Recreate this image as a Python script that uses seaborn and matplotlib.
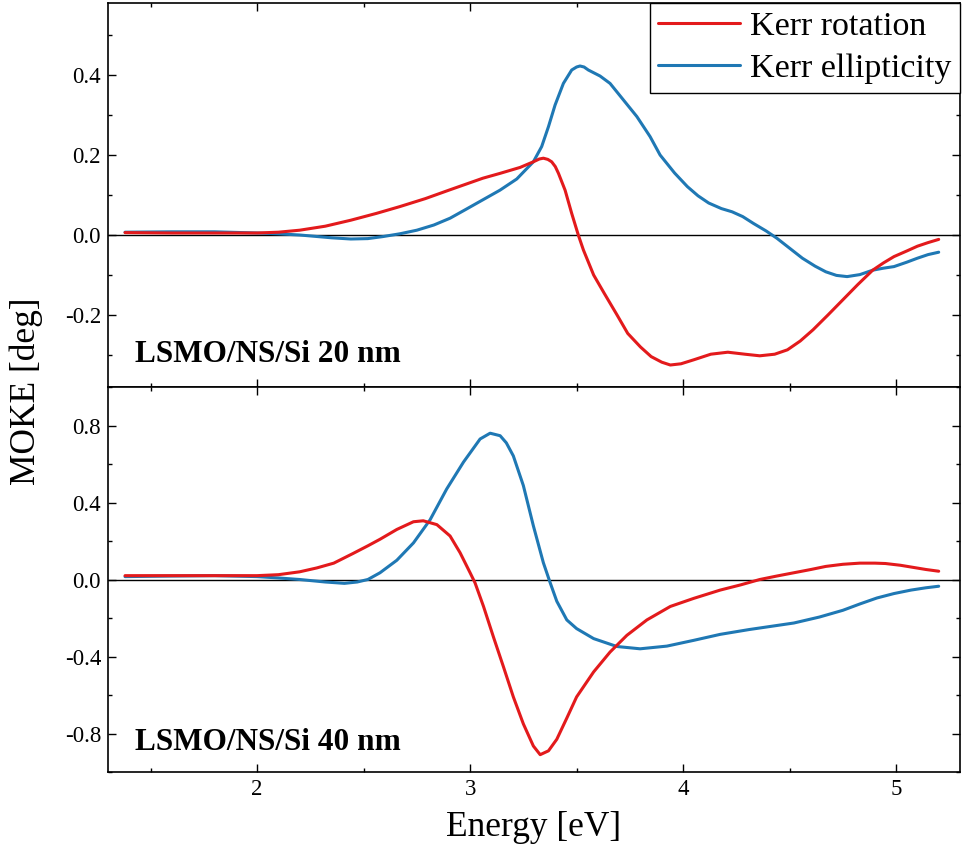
import matplotlib
matplotlib.use("Agg")
import matplotlib.pyplot as plt
import seaborn as sns
import pandas as pd
from matplotlib.ticker import MultipleLocator, FormatStrFormatter

# ---------------- data ----------------
e_rot_20 = [1.38, 1.6, 1.8, 2.0, 2.1, 2.2, 2.32, 2.44, 2.56, 2.67, 2.79, 2.9,
            2.98, 3.06, 3.14, 3.235, 3.297, 3.325, 3.344, 3.365, 3.383, 3.40,
            3.415, 3.446, 3.477, 3.508, 3.532, 3.58, 3.63, 3.69, 3.74, 3.80,
            3.85, 3.90, 3.94, 3.99, 4.05, 4.13, 4.21, 4.29, 4.36, 4.43, 4.49,
            4.55, 4.61, 4.68, 4.75, 4.82, 4.89, 4.94, 4.99, 5.05, 5.10, 5.15, 5.20]
rot_20 = [0.006, 0.005, 0.005, 0.005, 0.007, 0.012, 0.022, 0.037, 0.054, 0.071,
          0.091, 0.112, 0.127, 0.142, 0.154, 0.169, 0.183, 0.19, 0.192, 0.189,
          0.183, 0.171, 0.154, 0.112, 0.054, 0.0, -0.0375, -0.10, -0.146, -0.20,
          -0.246, -0.28, -0.304, -0.318, -0.325, -0.322, -0.312, -0.298, -0.293,
          -0.298, -0.302, -0.298, -0.287, -0.265, -0.237, -0.20, -0.162, -0.124,
          -0.088, -0.07, -0.054, -0.04, -0.028, -0.019, -0.011]

e_ell_20 = [1.38, 1.6, 1.8, 2.0, 2.1, 2.2, 2.35, 2.44, 2.52, 2.59, 2.67, 2.75,
            2.83, 2.906, 2.98, 3.06, 3.14, 3.219, 3.297, 3.336, 3.368, 3.399,
            3.438, 3.477, 3.50, 3.516, 3.535, 3.555, 3.61, 3.657, 3.72, 3.783,
            3.845, 3.892, 3.96, 4.02, 4.07, 4.12, 4.18, 4.23, 4.28, 4.33, 4.39,
            4.44, 4.50, 4.56, 4.62, 4.67, 4.72, 4.77, 4.83, 4.89, 4.94, 4.99,
            5.05, 5.10, 5.15, 5.20]
ell_20 = [0.007, 0.008, 0.008, 0.005, 0.003, 0.0, -0.007, -0.01, -0.009, -0.004,
          0.003, 0.012, 0.025, 0.042, 0.064, 0.088, 0.112, 0.14, 0.183, 0.221,
          0.271, 0.325, 0.379, 0.4125, 0.42, 0.4225, 0.42, 0.4125, 0.3975,
          0.379, 0.3375, 0.296, 0.246, 0.20, 0.155, 0.121, 0.098, 0.08, 0.066,
          0.058, 0.046, 0.029, 0.01, -0.008, -0.033, -0.058, -0.078, -0.092,
          -0.101, -0.104, -0.099, -0.088, -0.083, -0.079, -0.068, -0.058,
          -0.049, -0.043]

e_rot_40 = [1.38, 1.6, 1.8, 2.0, 2.1, 2.2, 2.28, 2.36, 2.45, 2.52, 2.577, 2.656,
            2.734, 2.78, 2.844, 2.906, 2.953, 3.0, 3.023, 3.063, 3.11, 3.157,
            3.203, 3.25, 3.297, 3.329, 3.368, 3.407, 3.454, 3.50, 3.58, 3.657,
            3.736, 3.83, 3.94, 4.05, 4.174, 4.27, 4.36, 4.44, 4.52, 4.60, 4.67,
            4.75, 4.83, 4.90, 4.95, 5.02, 5.08, 5.14, 5.20]
rot_40 = [0.02, 0.02, 0.02, 0.02, 0.025, 0.04, 0.06, 0.085, 0.135, 0.175, 0.209,
          0.26, 0.30, 0.305, 0.285, 0.226, 0.139, 0.035, -0.017, -0.14, -0.30,
          -0.455, -0.61, -0.75, -0.865, -0.91, -0.89, -0.83, -0.72, -0.61,
          -0.48, -0.377, -0.29, -0.21, -0.14, -0.098, -0.055, -0.028, 0.0,
          0.018, 0.035, 0.052, 0.068, 0.079, 0.085, 0.085, 0.083, 0.074, 0.063,
          0.052, 0.043]

e_ell_40 = [1.38, 1.6, 1.8, 2.0, 2.1, 2.2, 2.32, 2.41, 2.47, 2.52, 2.577, 2.656,
            2.734, 2.812, 2.89, 2.969, 3.047, 3.094, 3.141, 3.17, 3.203, 3.25,
            3.297, 3.344, 3.376, 3.407, 3.454, 3.50, 3.58, 3.689, 3.798, 3.924,
            4.05, 4.174, 4.31, 4.52, 4.64, 4.75, 4.83, 4.91, 4.99, 5.07, 5.14, 5.20]
ell_40 = [0.015, 0.018, 0.02, 0.015, 0.008, 0.0, -0.013, -0.02, -0.013, 0.0,
          0.035, 0.10, 0.19, 0.31, 0.47, 0.61, 0.73, 0.76, 0.747, 0.71, 0.642,
          0.488, 0.279, 0.087, -0.017, -0.113, -0.21, -0.255, -0.307, -0.348,
          -0.36, -0.346, -0.316, -0.285, -0.26, -0.226, -0.195, -0.16, -0.127,
          -0.096, -0.073, -0.055, -0.043, -0.035]

labels = ["Kerr rotation", "Kerr ellipticity"]
panel_titles = ["LSMO/NS/Si 20 nm", "LSMO/NS/Si 40 nm"]
x_label = "Energy [eV]"
y_label = "MOKE [deg]"

# ---------------- style ----------------
sns.set_theme(style="ticks")
plt.rcParams["font.family"] = ["Liberation Serif", "DejaVu Serif"]
plt.rcParams["axes.unicode_minus"] = False
for k in ["text.color", "axes.labelcolor", "xtick.color", "ytick.color",
          "axes.edgecolor"]:
    plt.rcParams[k] = "black"

RED = "#E31A1C"
BLUE = "#1F78B4"

fig = plt.figure(figsize=(9.63, 8.47), dpi=100)
left, right = 108 / 963, 960 / 963
y_top, y_mid, y_bot = 1 - 3 / 847, 1 - 387 / 847, 1 - 772 / 847
ax1 = fig.add_axes([left, y_mid, right - left, y_top - y_mid])
ax2 = fig.add_axes([left, y_bot, right - left, y_mid - y_bot], sharex=ax1)

panels = [
    (pd.DataFrame({"E": e_rot_20, "v": rot_20}), pd.DataFrame({"E": e_ell_20, "v": ell_20})),
    (pd.DataFrame({"E": e_rot_40, "v": rot_40}), pd.DataFrame({"E": e_ell_40, "v": ell_40})),
]

for i, ax in enumerate([ax1, ax2]):
    ax.axhline(0, color="black", lw=1.0, zorder=1)
    d_rot, d_ell = panels[i]
    sns.lineplot(data=d_rot, x="E", y="v", ax=ax, color=RED, lw=2.2,
                 sort=False, estimator=None,
                 label=labels[0] if i == 0 else None, zorder=3)
    sns.lineplot(data=d_ell, x="E", y="v", ax=ax, color=BLUE, lw=2.2,
                 sort=False, estimator=None,
                 label=labels[1] if i == 0 else None, zorder=2)
    ax.set_xlabel("")
    ax.set_ylabel("")
    for s in ax.spines.values():
        s.set_linewidth(1.2)
        s.set_color("black")
    ax.tick_params(which="both", direction="in", top=True, right=True,
                   colors="black", labelsize=16.5, width=1.0)
    ax.tick_params(which="major", length=6, pad=5)
    ax.tick_params(which="minor", length=3)
    ax.xaxis.set_major_locator(MultipleLocator(1))
    ax.xaxis.set_minor_locator(MultipleLocator(0.5))
    ax.yaxis.set_major_formatter(FormatStrFormatter("%.1f"))

ax1.set_xlim(1.30, 5.30)
ax1.set_ylim(-0.38, 0.58)
ax1.yaxis.set_major_locator(MultipleLocator(0.2))
ax1.yaxis.set_minor_locator(MultipleLocator(0.1))
ax1.tick_params(labelbottom=False)

ax2.set_ylim(-1.0, 1.0)
ax2.yaxis.set_major_locator(MultipleLocator(0.4))
ax2.yaxis.set_minor_locator(MultipleLocator(0.2))

# panel annotations
ax1.text(1.425, -0.318, panel_titles[0], fontsize=22.5, fontweight="bold",
         ha="left", va="baseline")
ax2.text(1.425, -0.885, panel_titles[1], fontsize=22.5, fontweight="bold",
         ha="left", va="baseline")

ax2.set_xlabel(x_label, fontsize=25.5, labelpad=8)
fig.text(0.027, (y_top + y_bot) / 2 - 0.005, y_label, fontsize=25.5,
         rotation=90, ha="center", va="center")

leg = ax1.legend(loc="upper right", fontsize=24.5, frameon=True, fancybox=False,
                 borderaxespad=0.0, handlelength=2.4, handletextpad=0.3,
                 borderpad=0.25, labelspacing=0.32, framealpha=1)
leg.get_frame().set_edgecolor("black")
leg.get_frame().set_linewidth(1.0)

fig.savefig("out.png", dpi=100)
